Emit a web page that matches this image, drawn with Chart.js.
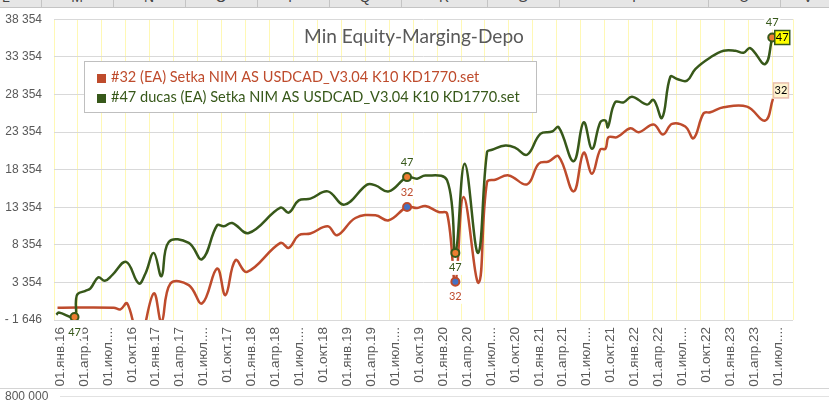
<!DOCTYPE html>
<html>
<head>
<meta charset="utf-8">
<script src="https://cdn.jsdelivr.net/npm/chart.js@4.4.0/dist/chart.umd.min.js"></script>
<style>
body { margin:0; width:829px; height:401px; overflow:hidden; background:#fff; font-family:"Liberation Sans", Arial, sans-serif; }
#wrap { position:absolute; left:0; top:0; width:829px; height:401px; }
#sheetHead { position:absolute; left:0; top:0; width:829px; height:7px; background:#e6e6e6; border-bottom:1px solid #c4c4c4; overflow:hidden; z-index:2; }
#sheetHead div { position:absolute; top:0; height:8px; width:0; border-left:1px solid #c4c4c4; }
#sheetHead span { position:absolute; top:-11px; font-size:14px; color:#444; width:20px; margin-left:-10px; text-align:center; }
#bottomLine { position:absolute; left:0; top:388px; width:829px; height:1px; background:#d4d4d4; }
#nextChart { position:absolute; left:5px; top:389px; font-size:12px; color:#595959; }
#nextGrid { position:absolute; left:60px; top:396px; width:769px; height:1px; background:#e2e2e2; }
</style>
</head>
<body>
<div id="sheetHead">
  <span style="left:6px">L</span><div style="left:41px"></div>
  <span style="left:77px">M</span><div style="left:113px"></div>
  <span style="left:149px">N</span><div style="left:185px"></div>
  <span style="left:221px">O</span><div style="left:257px"></div>
  <span style="left:293px">P</span><div style="left:329px"></div>
  <span style="left:365px">Q</span><div style="left:401px"></div>
  <span style="left:444px">R</span><div style="left:487px"></div>
  <span style="left:523px">S</span><div style="left:559px"></div>
  <span style="left:634px">T</span><div style="left:708px"></div>
  <span style="left:744px">U</span><div style="left:780px"></div>
  <span style="left:808px">V</span>
</div>
<div id="wrap"><canvas id="equityChart" width="829" height="401"></canvas></div>
<div id="bottomLine"></div>
<div id="nextChart">800 000</div>
<div id="nextGrid"></div>
<script>
// months counted from 01.01.2016
const months47 = [0.3, 0.6, 2.57, 2.75, 2.95, 3.95, 4.57, 5.54, 6.36, 7.29, 9.04, 10.62, 11.46, 12.5, 13.47, 14.38, 16.89, 18.56, 20.44, 21.27, 22.32, 24.4, 28.37, 29.41, 30.67, 32.13, 34.3, 36.39, 39.23, 40.27, 41.94, 44.24, 45.5, 46.54, 49.26, 50.29, 51.46, 53.14, 54.26, 54.89, 56.56, 57.81, 59.28, 60.94, 62.41, 63.24, 65.11, 66.37, 67.42, 68.45, 69.1, 69.4, 70.3, 71.38, 72.43, 74.31, 75.13, 76.19, 77.23, 78.07, 79.32, 80.36, 82.24, 83.9, 85.37, 86.41, 87.24, 89.11, 90.0];
const equity47 = [-950, -650, -1248, 900, 1800, 2240, 2560, 4016, 3565, 4321, 6085, 3220, 4546, 7278, 4188, 8737, 8604, 6443, 10951, 10818, 11256, 9930, 13298, 12635, 14266, 14491, 15459, 13696, 16348, 16255, 15459, 17356, 17144, 17581, 16918, 7278, 19133, 7278, 20671, 20989, 21559, 21254, 20326, 23111, 23415, 23986, 19477, 24649, 21121, 24649, 24874, 23986, 27300, 27301, 28056, 26996, 27619, 25232, 30708, 30404, 30178, 31730, 33268, 34156, 34156, 33891, 34514, 32393, 35920];

const months32 = [0.44, 7.49, 8.33, 9.17, 10.7, 12.5, 13.47, 14.59, 16.89, 18.56, 20.44, 21.48, 22.74, 24.2, 28.37, 29.41, 30.67, 32.13, 34.3, 35.47, 37.77, 40.27, 41.94, 44.24, 45.5, 46.54, 48.2, 49.26, 50.29, 51.33, 53.21, 54.26, 55.3, 56.97, 59.28, 60.73, 61.98, 63.24, 65.11, 66.37, 67.42, 68.45, 69.1, 69.5, 70.55, 72.22, 73.26, 75.13, 76.31, 77.44, 79.1, 80.14, 81.4, 82.24, 83.9, 86.83, 89.11, 90.09];
const equity32 = [-15, -15, -227, 568, -4200, 1894, -1900, 3220, 2995, 568, 5209, 1669, 6310, 4759, 8604, 7941, 9625, 9850, 10818, 9625, 11919, 12277, 11614, 13378, 13245, 13510, 12715, 12502, 3433, 14704, 3300, 16693, 17011, 17581, 16388, 19133, 19437, 20100, 15459, 20600, 17806, 21030, 21121, 22660, 22660, 23854, 23323, 24344, 23018, 24437, 24078, 22527, 25842, 25975, 26638, 26730, 24874, 27752];

// highlighted points (labelled "47" / "32")
const markMonths47 = [2.57, 44.24, 50.29, 90.0];
const markValues47 = [-1248, 17356, 7278, 35920];
const markSide47 = ['below', 'above', 'below', 'above'];
const markMonths32 = [44.24, 50.29];
const markValues32 = [13378, 3433];
const markSide32 = ['above', 'below'];

const xTicks = [0, 3, 6, 9, 12, 15, 18, 21, 24, 27, 30, 33, 36, 39, 42, 45, 48, 51, 54, 57, 60, 63, 66, 69, 72, 75, 78, 81, 84, 87, 90, 92.6];
const xTickLabels = ['01.янв.16', '01.апр.16', '01.июл....', '01.окт.16', '01.янв.17', '01.апр.17', '01.июл....', '01.окт.17',
  '01.янв.18', '01.апр.18', '01.июл....', '01.окт.18', '01.янв.19', '01.апр.19', '01.июл....', '01.окт.19',
  '01.янв.20', '01.апр.20', '01.июл....', '01.окт.20', '01.янв.21', '01.апр.21', '01.июл....', '01.окт.21',
  '01.янв.22', '01.апр.22', '01.июл....', '01.окт.22', '01.янв.23', '01.апр.23', '01.июл....', ''];
const yTicks = [-1646, 3354, 8354, 13354, 18354, 23354, 28354, 33354, 38354];

const legendNames = ['#32 (EA) Setka NIM AS USDCAD_V3.04 K10 KD1770.set', '#47 ducas (EA) Setka NIM AS USDCAD_V3.04 K10 KD1770.set'];
const chartTitle = 'Min Equity-Marging-Depo';

const RED = '#BE4B2C';
const GREEN = '#37581A';

function fmtNum(v) {
  const s = String(Math.abs(v)).replace(/\B(?=(\d{3})+(?!\d))/g, ' ');
  return v < 0 ? '- ' + s : s;
}

function fitFont(c, text, width, family) {
  c.font = '20px ' + family;
  return 20 * width / c.measureText(text).width;
}

const extras = {
  id: 'extras',
  afterDatasetsDraw(chart) {
    const c = chart.ctx;
    c.save();
    // title
    let fs = fitFont(c, chartTitle, 220, 'Lato');
    c.font = fs + 'px Lato';
    c.fillStyle = '#595959';
    c.textAlign = 'center';
    c.textBaseline = 'middle';
    c.fillText(chartTitle, 414, 37);

    // legend
    c.fillStyle = '#fff';
    c.fillRect(84.5, 61.5, 452, 51);
    c.strokeStyle = '#BFBFBF';
    c.lineWidth = 1;
    c.strokeRect(84.5, 61.5, 452, 51);
    fs = fitFont(c, legendNames[1], 409, 'Lato');
    c.font = fs + 'px Lato';
    c.textAlign = 'left';
    [RED, GREEN].forEach((col, i) => {
      c.fillStyle = col;
      c.fillRect(97, 74 + i * 20, 9, 9);
      c.fillText(legendNames[i], 111, 77.5 + i * 20);
    });

    // point labels
    c.font = '11px Lato';
    c.textAlign = 'center';
    const groups = [[2, '47', GREEN, markSide47], [3, '32', RED, markSide32]];
    groups.forEach(([idx, txt, col, sides]) => {
      chart.getDatasetMeta(idx).data.forEach((p, j) => {
        const y = sides[j] === 'above' ? p.y - 15 : p.y + 15;
        c.fillStyle = '#fff';
        c.fillRect(p.x - 8, y - 7, 16, 14);
        c.fillStyle = col;
        c.fillText(txt, p.x, y);
      });
    });

    // end boxes
    const g = chart.getDatasetMeta(1).data;
    const gp = g[g.length - 1];
    c.fillStyle = '#FFFF00';
    c.fillRect(gp.x + 2.5, gp.y - 7, 15, 14);
    c.strokeStyle = GREEN;
    c.lineWidth = 1.5;
    c.strokeRect(gp.x + 2.5, gp.y - 7, 15, 14);
    c.fillStyle = '#000';
    c.fillText('47', gp.x + 10, gp.y);

    const r = chart.getDatasetMeta(0).data;
    const rp = r[r.length - 1];
    c.fillStyle = '#FFF5D0';
    c.fillRect(rp.x + 0.5, rp.y - 16, 15, 15);
    c.strokeStyle = '#E9BFAE';
    c.lineWidth = 1.5;
    c.strokeRect(rp.x + 0.5, rp.y - 16, 15, 15);
    c.fillStyle = '#000';
    c.fillText('32', rp.x + 8, rp.y - 8.5);
    c.restore();
  }
};

const ctx = document.getElementById('equityChart').getContext('2d');
new Chart(ctx, {
  type: 'line',
  data: {
    datasets: [
      {
        label: legendNames[0],
        data: months32.map((m, i) => ({ x: m, y: equity32[i] })),
        borderColor: RED, borderWidth: 2.5, pointRadius: 0, tension: 0.4, fill: false, order: 3
      },
      {
        label: legendNames[1],
        data: months47.map((m, i) => ({ x: m, y: equity47[i] })),
        borderColor: GREEN, borderWidth: 2.5, pointRadius: 0, tension: 0.4, fill: false, order: 2
      },
      {
        label: 'min47',
        data: markMonths47.map((m, i) => ({ x: m, y: markValues47[i] })),
        showLine: false, pointRadius: 4, pointBorderWidth: 2,
        pointBackgroundColor: '#ED7D31', pointBorderColor: GREEN, order: 1
      },
      {
        label: 'min32',
        data: markMonths32.map((m, i) => ({ x: m, y: markValues32[i] })),
        showLine: false, pointRadius: 4, pointBorderWidth: 2,
        pointBackgroundColor: '#4472C4', pointBorderColor: RED, order: 1
      }
    ]
  },
  options: {
    responsive: false,
    animation: false,
    layout: { padding: { left: 0, top: 18, right: 36, bottom: 0 } },
    plugins: { legend: { display: false }, tooltip: { enabled: false }, title: { display: false } },
    scales: {
      x: {
        type: 'linear', min: 0, max: 92.6,
        afterBuildTicks: s => { s.ticks = xTicks.map(v => ({ value: v })); },
        afterFit: s => { s.height = 81; },
        grid: { color: '#FFF8B5', drawTicks: false },
        border: { display: false },
        ticks: {
          autoSkip: false, minRotation: 90, maxRotation: 90, padding: 7, labelOffset: 6,
          color: '#595959', font: { family: 'Liberation Sans', size: 13.5 },
          callback: (v, i) => xTickLabels[i]
        }
      },
      y: {
        min: -1646, max: 38354,
        afterBuildTicks: s => { s.ticks = yTicks.map(v => ({ value: v })); },
        afterFit: s => { s.width = 54; },
        grid: { color: '#D9D9D9', drawTicks: false },
        border: { display: false },
        ticks: {
          padding: 12, color: '#595959', font: { family: 'Liberation Sans', size: 12 },
          callback: v => fmtNum(v)
        }
      }
    }
  },
  plugins: [extras]
});
</script>
</body>
</html>
